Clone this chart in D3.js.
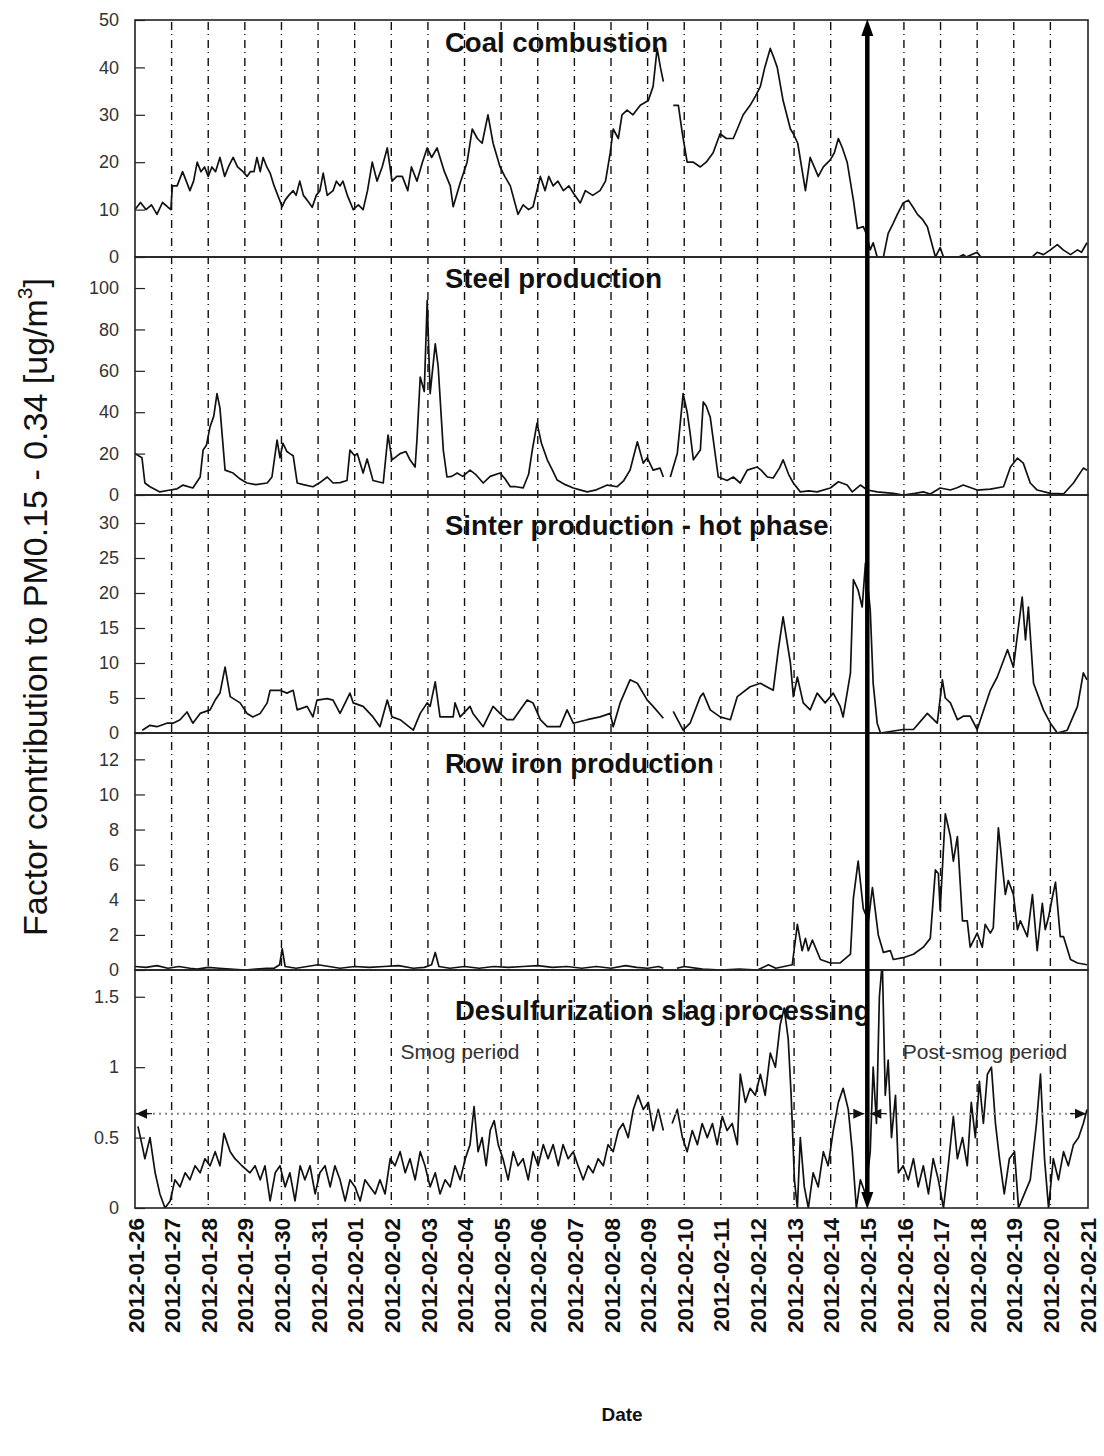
<!DOCTYPE html>
<html>
<head>
<meta charset="utf-8">
<script src="https://cdn.jsdelivr.net/npm/d3@7"></script>
<style>
  body { margin: 0; background: #fff; }
  svg { display: block; font-family: "Liberation Sans", Arial, sans-serif; }
</style>
</head>
<body>
<svg id="chart" width="1104" height="1456"></svg>
<script>
// ---------------- DATA ----------------
const startDate = "2012-01-26";
const endDate = "2012-02-21";
const eventDate = "2012-02-15";
const panelTitles = ["Coal combustion", "Steel production", "Sinter production - hot phase", "Row iron production", "Desulfurization slag processing"];
const yMaxes = [50, 115, 34, 13.5, 1.69];
const yTickValues = [[0,10,20,30,40,50],[0,20,40,60,80,100],[0,5,10,15,20,25,30],[0,2,4,6,8,10,12],[0,0.5,1,1.5]];
const yAxisTitle = "Factor contribution to PM0.15 - 0.34 [ug/m";
const xAxisTitle = "Date";
const periodLabels = ["Smog period", "Post-smog period"];
const thresholdValue = 0.67;

// [days since 2012-01-26, value]; null = gap
const coal = [[0,10],[0.15,11.5],[0.3,10],[0.45,11],[0.6,9],[0.75,11.5],[0.9,10.5],[0.98,10],[1.02,15],[1.15,15],[1.3,18],[1.4,16],[1.5,14],[1.6,16],[1.7,20],[1.8,18],[1.9,19],[2.0,17],[2.1,19],[2.2,18],[2.32,21],[2.45,17],[2.55,19],[2.68,21],[2.8,19],[2.95,18],[3.06,17],[3.15,18],[3.25,18],[3.33,21],[3.42,18],[3.5,21],[3.6,19],[3.69,17.7],[3.8,15],[3.9,13],[4.02,10.6],[4.1,12],[4.2,13],[4.32,14],[4.4,13],[4.5,16],[4.6,13],[4.7,12],[4.84,10.5],[4.95,13],[5.05,14],[5.14,17.7],[5.25,13],[5.41,14],[5.5,16],[5.6,15],[5.68,16],[5.8,13],[5.96,10],[6.1,11],[6.23,10],[6.35,14],[6.48,20],[6.61,16],[6.75,19],[6.89,23],[7.02,16],[7.15,17],[7.3,17],[7.45,14],[7.55,19],[7.7,16],[7.85,20],[7.98,23],[8.1,21],[8.25,23],[8.45,18],[8.61,15],[8.69,10.6],[8.88,15.6],[9.07,20],[9.21,27],[9.35,25],[9.48,24],[9.64,30],[9.78,24],[9.97,19],[10.1,17],[10.25,15],[10.46,9],[10.6,11],[10.75,10],[10.87,10.6],[11.07,17],[11.2,14],[11.3,17],[11.42,15],[11.55,16],[11.7,14],[11.85,15],[11.97,13.5],[12.16,11.4],[12.3,14],[12.5,13],[12.7,14],[12.85,16],[12.98,22],[13.06,27],[13.2,25],[13.3,30],[13.44,31],[13.6,30],[13.8,32],[14.02,33],[14.15,36],[14.26,44],[14.35,40],[14.43,37],[14.5,null],[14.7,32],[14.84,32],[14.95,26],[15.08,20],[15.25,20],[15.44,19],[15.6,20],[15.79,22],[15.98,26],[16.15,25],[16.34,25],[16.45,27],[16.61,30],[16.8,32],[16.95,34],[17.08,36],[17.2,40],[17.35,44],[17.45,42],[17.54,40],[17.7,33],[17.9,27],[17.98,26],[18.1,24],[18.31,14],[18.44,21],[18.55,19],[18.66,17],[18.8,19],[18.99,20.5],[19.1,22],[19.21,25],[19.32,23],[19.45,20],[19.62,12],[19.73,6],[19.89,6.4],[19.97,5],[20.08,1.5],[20.16,3],[20.27,0],[20.44,0],[20.57,5],[20.7,7],[20.82,9],[20.98,11.4],[21.12,12],[21.25,10.5],[21.37,9],[21.5,8],[21.64,6.4],[21.86,0],[21.99,2],[22.08,0],[22.5,0],[22.62,0.5],[22.7,0],[23.0,1],[23.1,0],[24.5,0],[24.64,1],[24.81,0.5],[25.0,1.5],[25.19,2.6],[25.35,1.5],[25.55,0.5],[25.74,1.5],[25.85,1],[26,3]];

const steel = [[0,20],[0.19,18],[0.27,5.8],[0.41,4],[0.68,1.5],[0.96,2.4],[1.15,3],[1.31,4.8],[1.58,3.4],[1.78,8.7],[1.86,21.7],[1.95,24],[2.05,33],[2.15,38],[2.24,49],[2.32,42],[2.46,12],[2.68,10.6],[2.85,8],[3.06,5.8],[3.3,5],[3.61,5.8],[3.74,8.7],[3.88,26.5],[3.96,18],[4.04,25],[4.15,21],[4.23,20],[4.32,19],[4.43,5.8],[4.6,5],[4.86,4],[5.05,6],[5.25,8.7],[5.41,5.8],[5.6,6],[5.79,7],[5.87,21.7],[6.0,19],[6.07,20],[6.23,10.6],[6.34,17.4],[6.5,7],[6.78,5.8],[6.91,29],[7.02,17],[7.24,20],[7.4,21],[7.51,17],[7.65,13.5],[7.7,26.5],[7.79,57],[7.9,50],[7.98,94],[8.06,49],[8.2,73],[8.28,62],[8.42,21.7],[8.52,8.7],[8.65,9],[8.8,10.6],[8.95,9],[9.15,12],[9.3,10],[9.51,5.8],[9.7,9],[9.97,10.6],[10.1,8],[10.25,4],[10.4,4],[10.6,3.4],[10.75,10],[10.85,21.7],[10.98,34.7],[11.1,25],[11.26,17],[11.4,12],[11.53,7.2],[11.75,5],[11.97,3.4],[12.15,2.5],[12.35,1.5],[12.6,2.5],[12.9,4.8],[13.17,4],[13.35,7],[13.52,12],[13.72,25.7],[13.88,15.4],[13.99,18],[14.15,12],[14.34,13],[14.43,8.7],[14.5,null],[14.62,8.7],[14.81,20],[14.97,49],[15.08,40],[15.16,30],[15.25,17],[15.44,21.7],[15.52,45],[15.6,43],[15.71,37.6],[15.93,8.7],[16.17,7],[16.34,8.7],[16.53,5.8],[16.72,12],[16.99,13.5],[17.1,12],[17.27,8.7],[17.43,8.2],[17.6,13],[17.7,17],[17.85,10],[17.98,5.8],[18.17,1.5],[18.4,2],[18.63,1.5],[18.99,3.4],[19.21,6.4],[19.45,4.8],[19.59,1.5],[19.81,4.8],[20,2.4],[20.27,1.5],[20.71,0.8],[20.98,0],[21.3,0.8],[21.53,1.5],[21.72,0.5],[21.99,3.4],[22.27,2.4],[22.45,3.5],[22.62,4.8],[23.0,2.4],[23.36,2.8],[23.72,4],[23.91,13.5],[24.1,17.8],[24.26,15.4],[24.45,5.8],[24.64,2.4],[25.0,0.8],[25.36,0.5],[25.63,5.8],[25.9,13],[26,12]];

const sinter = [[0.2,0.4],[0.41,1.1],[0.6,0.9],[0.87,1.4],[1.04,1.4],[1.23,1.9],[1.42,3.0],[1.58,1.4],[1.78,2.8],[2.05,3.3],[2.19,4.7],[2.32,5.7],[2.46,9.4],[2.6,5.2],[2.87,4.3],[3.06,2.8],[3.22,2.3],[3.42,2.8],[3.61,4.3],[3.69,6.1],[3.96,6.1],[4.15,5.7],[4.32,6.1],[4.43,3.3],[4.7,3.8],[4.86,2.3],[4.97,4.7],[5.25,4.9],[5.41,4.7],[5.6,2.8],[5.87,5.7],[5.96,4.3],[6.23,3.8],[6.5,2.3],[6.69,0.9],[6.89,4.7],[7.02,2.3],[7.24,1.9],[7.6,0.4],[7.79,2.8],[7.98,4.3],[8.06,3.8],[8.2,7.3],[8.33,2.3],[8.69,2.3],[8.74,4.3],[8.88,2.3],[9.15,3.8],[9.23,2.8],[9.51,0.9],[9.78,3.8],[9.97,2.8],[10.16,1.9],[10.33,1.9],[10.71,4.7],[10.87,4.3],[11.07,1.9],[11.26,0.9],[11.61,0.9],[11.8,3.3],[11.97,1.4],[12.35,1.9],[12.7,2.3],[12.98,2.8],[13.06,0.9],[13.25,4.3],[13.52,7.6],[13.72,7.1],[13.99,4.7],[14.15,3.8],[14.43,2.1],[14.5,null],[14.7,3.1],[14.97,0.4],[15.16,1.4],[15.44,5.2],[15.52,5.7],[15.71,3.3],[15.98,2.3],[16.26,1.9],[16.45,5.2],[16.8,6.6],[17.08,7.1],[17.43,6.1],[17.57,11.9],[17.7,16.6],[17.9,10],[17.98,5.2],[18.09,8],[18.25,4.3],[18.44,3.3],[18.63,5.7],[18.85,4.3],[19.07,5.7],[19.26,3.8],[19.34,2.3],[19.54,8.6],[19.62,21.9],[19.75,20.4],[19.86,18],[19.95,24.3],[20.08,17.6],[20.16,7.1],[20.27,1.4],[20.36,0],[20.98,0.5],[21.26,0.5],[21.64,2.8],[21.91,1.4],[22.05,7.6],[22.13,5],[22.27,4.3],[22.46,1.9],[22.62,2.4],[22.81,2.4],[23.0,0.5],[23.36,6.1],[23.55,8],[23.83,11.9],[23.99,9.4],[24.23,19.4],[24.32,13.3],[24.4,18],[24.54,7.1],[24.81,3.3],[25.0,1.4],[25.19,0],[25.46,0.4],[25.74,3.8],[25.9,8.6],[26,7.6]];

const rowIron = [[0,0.2],[0.3,0.15],[0.6,0.25],[0.9,0.1],[1.2,0.2],[1.5,0.1],[1.7,0.05],[2.0,0.15],[2.3,0.1],[2.6,0.05],[3.0,0],[3.3,0.05],[3.6,0.1],[3.8,0.1],[3.95,0.3],[4.02,1.2],[4.1,0.2],[4.4,0.1],[4.7,0.2],[5.0,0.3],[5.3,0.2],[5.6,0.1],[6.0,0.2],[6.4,0.15],[6.8,0.2],[7.2,0.25],[7.6,0.1],[7.9,0.15],[8.1,0.3],[8.2,1.0],[8.3,0.2],[8.6,0.1],[9.0,0.2],[9.4,0.1],[9.8,0.2],[10.2,0.15],[10.6,0.2],[11.0,0.25],[11.4,0.15],[11.8,0.2],[12.2,0.1],[12.6,0.2],[13.0,0.1],[13.4,0.25],[13.7,0.15],[14.0,0.1],[14.3,0.2],[14.43,0.1],[14.5,null],[14.8,0.1],[15.0,0.2],[15.5,0.05],[16.0,0],[16.5,0.05],[17.0,0],[17.3,0.3],[17.5,0.1],[17.95,0.3],[18.09,2.6],[18.22,1.1],[18.31,1.8],[18.39,1.1],[18.5,1.7],[18.72,0.6],[18.99,0.4],[19.26,0.4],[19.54,0.9],[19.62,4.1],[19.75,6.2],[19.89,3.5],[20.03,2.8],[20.14,4.7],[20.3,2.0],[20.44,1.0],[20.63,1.1],[20.71,0.6],[20.98,0.7],[21.26,0.9],[21.53,1.3],[21.72,1.8],[21.86,5.7],[21.94,5.5],[21.99,3.4],[22.13,8.9],[22.27,7.6],[22.35,6.2],[22.46,7.6],[22.6,2.8],[22.73,2.8],[22.81,1.3],[23.0,2.1],[23.14,1.3],[23.22,2.6],[23.36,2.1],[23.44,2.4],[23.58,8.1],[23.77,4.3],[23.85,5.1],[23.99,4.3],[24.1,2.3],[24.18,2.8],[24.37,1.9],[24.51,4.3],[24.64,1.1],[24.78,3.8],[24.86,2.3],[24.95,3.0],[25.05,4.1],[25.14,5.0],[25.27,1.9],[25.36,1.9],[25.55,0.6],[25.74,0.4],[26,0.3]];

const desulf = [[0.08,0.58],[0.19,0.45],[0.27,0.35],[0.41,0.5],[0.55,0.25],[0.68,0.1],[0.82,0],[0.96,0.05],[1.09,0.2],[1.23,0.15],[1.37,0.25],[1.5,0.2],[1.64,0.3],[1.78,0.25],[1.91,0.35],[2.05,0.3],[2.19,0.4],[2.32,0.3],[2.43,0.53],[2.6,0.4],[2.73,0.35],[2.92,0.3],[3.14,0.25],[3.28,0.3],[3.42,0.2],[3.55,0.3],[3.69,0.05],[3.83,0.25],[3.96,0.3],[4.1,0.15],[4.23,0.25],[4.37,0.05],[4.51,0.3],[4.64,0.2],[4.78,0.3],[4.92,0.1],[5.05,0.25],[5.19,0.3],[5.33,0.15],[5.46,0.3],[5.6,0.2],[5.74,0.05],[5.87,0.2],[6.01,0.15],[6.15,0.05],[6.28,0.2],[6.42,0.15],[6.56,0.1],[6.69,0.2],[6.83,0.1],[6.97,0.35],[7.1,0.3],[7.24,0.4],[7.38,0.25],[7.51,0.35],[7.65,0.2],[7.79,0.4],[7.92,0.3],[8.06,0.15],[8.2,0.25],[8.33,0.1],[8.47,0.2],[8.61,0.15],[8.74,0.3],[8.88,0.2],[9.02,0.35],[9.15,0.45],[9.26,0.72],[9.37,0.4],[9.48,0.5],[9.59,0.3],[9.7,0.55],[9.81,0.62],[9.92,0.45],[10.05,0.35],[10.19,0.2],[10.33,0.4],[10.46,0.3],[10.6,0.35],[10.74,0.2],[10.87,0.4],[11.01,0.3],[11.15,0.45],[11.28,0.35],[11.42,0.45],[11.56,0.3],[11.69,0.45],[11.83,0.35],[11.97,0.4],[12.1,0.3],[12.24,0.2],[12.38,0.3],[12.51,0.25],[12.65,0.35],[12.79,0.3],[12.92,0.45],[13.06,0.4],[13.2,0.55],[13.33,0.6],[13.47,0.5],[13.61,0.7],[13.74,0.8],[13.88,0.7],[14.02,0.75],[14.15,0.55],[14.29,0.7],[14.43,0.55],[14.5,null],[14.67,0.6],[14.81,0.7],[14.95,0.5],[15.08,0.4],[15.22,0.55],[15.36,0.45],[15.49,0.6],[15.63,0.5],[15.77,0.6],[15.9,0.45],[16.04,0.65],[16.17,0.55],[16.31,0.6],[16.45,0.45],[16.53,0.95],[16.67,0.75],[16.8,0.85],[16.94,0.8],[17.08,0.95],[17.21,0.8],[17.35,1.1],[17.49,1.0],[17.62,1.3],[17.73,1.42],[17.84,1.2],[17.92,0.8],[18.01,0.2],[18.09,0],[18.17,0.5],[18.28,0.15],[18.39,0],[18.52,0.25],[18.66,0.15],[18.8,0.4],[18.93,0.3],[19.07,0.55],[19.21,0.75],[19.34,0.85],[19.48,0.7],[19.59,0.4],[19.7,0],[19.81,0.2],[19.95,0.1],[20.08,0.4],[20.16,1.0],[20.25,0.6],[20.33,1.5],[20.41,1.75],[20.49,0.8],[20.57,1.05],[20.66,0.5],[20.77,0.8],[20.85,0.25],[20.98,0.3],[21.12,0.2],[21.26,0.35],[21.39,0.15],[21.53,0.3],[21.67,0.1],[21.8,0.35],[21.94,0.2],[22.08,0],[22.21,0.3],[22.35,0.65],[22.46,0.35],[22.6,0.5],[22.73,0.3],[22.84,0.75],[22.95,0.5],[23.06,0.9],[23.17,0.6],[23.28,0.95],[23.39,1.0],[23.5,0.6],[23.61,0.35],[23.74,0.1],[23.88,0.35],[24.02,0.4],[24.13,0],[24.29,0.1],[24.45,0.2],[24.62,0.6],[24.73,0.95],[24.84,0.35],[24.95,0],[25.08,0.35],[25.22,0.2],[25.36,0.4],[25.49,0.3],[25.63,0.45],[25.77,0.5],[25.9,0.6],[26,0.7]];

const seriesList = [coal, steel, sinter, rowIron, desulf];

// ---------------- LAYOUT ----------------
const svg = d3.select("#chart");
const left = 135, right = 1088;
const panelTops = [20, 257, 495, 733, 970];
const panelBottom = 1208;
const DAY = 86400000;
const t0 = new Date(startDate + "T00:00:00Z");
const toDate = d => new Date(t0.getTime() + d * DAY);

const x = d3.scaleUtc()
  .domain([t0, new Date(endDate + "T00:00:00Z")])
  .range([left, 1087]);

const line = d3.line().defined(p => p[1] !== null);

// vertical day lines
const days = d3.utcDay.range(d3.utcDay.offset(t0, 1), new Date(endDate + "T00:00:00Z"))
  .filter(d => d3.utcFormat("%Y-%m-%d")(d) !== eventDate);
svg.append("g").selectAll("line").data(days).join("line")
  .attr("x1", d => x(d)).attr("x2", d => x(d))
  .attr("y1", 22).attr("y2", panelBottom)
  .attr("stroke", "#111").attr("stroke-width", 1.4)
  .attr("stroke-dasharray", "8,4,1,5");

panelTitles.forEach((title, i) => {
  const top = panelTops[i];
  const bottom = i < 4 ? panelTops[i + 1] : panelBottom;
  const y = d3.scaleLinear().domain([0, yMaxes[i]]).range([bottom, top]);
  const g = svg.append("g");

  const clipId = "clip" + i;
  svg.append("clipPath").attr("id", clipId).append("rect")
    .attr("x", left).attr("y", top).attr("width", right - left).attr("height", bottom - top);

  // axis
  const ax = g.append("g").attr("transform", `translate(${left},0)`)
    .call(d3.axisLeft(y).tickValues(yTickValues[i]).tickSizeInner(-10).tickSizeOuter(0).tickPadding(16)
      .tickFormat(v => String(v)));
  ax.select(".domain").remove();
  ax.selectAll("line").attr("stroke", "#222").attr("stroke-width", 1.2);
  ax.selectAll("text").attr("font-size", 18).attr("fill", "#333")
    .attr("font-family", "'Liberation Sans', Arial, sans-serif");

  // series line
  g.append("path")
    .datum(seriesList[i].map(p => [x(toDate(p[0])), p[1] === null ? null : y(p[1])]))
    .attr("clip-path", `url(#${clipId})`)
    .attr("fill", "none").attr("stroke", "#111").attr("stroke-width", 1.7)
    .attr("stroke-linejoin", "round")
    .attr("d", d => line.y(p => p[1]).x(p => p[0])(d));

  // title
  g.append("text")
    .attr("x", i === 4 ? 455 : 445)
    .attr("y", [52, 288, 535, 773, 1020][i])
    .attr("font-size", 27.5).attr("font-weight", "bold").attr("fill", "#111")
    .text(title);

  // frame
  svg.append("rect").attr("x", left).attr("y", top)
    .attr("width", right - left).attr("height", bottom - top)
    .attr("fill", "none").attr("stroke", "#222").attr("stroke-width", 1.6);

  if (i === 4) {
    const yy = y(thresholdValue);
    const xe = x(new Date(eventDate + "T00:00:00Z"));
    g.append("line").attr("x1", left).attr("x2", 1087).attr("y1", yy).attr("y2", yy)
      .attr("stroke", "#888").attr("stroke-width", 2).attr("stroke-dasharray", "2,4");
    const tri = (tipX, dir) => {
      const h = 11, w = 5;
      return `M${tipX},${yy} L${tipX - dir * h},${yy - w} L${tipX - dir * h},${yy + w} Z`;
    };
    [[left + 1, -1], [xe - 3, 1], [xe + 3, -1], [1086, 1]].forEach(([tx, dir]) => {
      g.append("path").attr("d", tri(tx, dir)).attr("fill", "#111");
      g.append("line").attr("x1", tx).attr("x2", tx - dir * 16).attr("y1", yy).attr("y2", yy)
        .attr("stroke", "#111").attr("stroke-width", 1.2);
    });
    g.append("text").attr("x", 460).attr("y", 1059).attr("text-anchor", "middle")
      .attr("font-size", 21).attr("fill", "#333").text(periodLabels[0]);
    g.append("text").attr("x", 985).attr("y", 1059).attr("text-anchor", "middle")
      .attr("font-size", 21).attr("fill", "#333").text(periodLabels[1]);
  }
});

// event arrow
const xe = x(new Date(eventDate + "T00:00:00Z"));
svg.append("line").attr("x1", xe).attr("x2", xe).attr("y1", 30).attr("y2", panelBottom - 10)
  .attr("stroke", "#000").attr("stroke-width", 4.5);
svg.append("path").attr("d", `M${xe},19 L${xe - 6},36 L${xe + 6},36 Z`).attr("fill", "#000");
svg.append("path").attr("d", `M${xe},${panelBottom + 1} L${xe - 6},${panelBottom - 16} L${xe + 6},${panelBottom - 16} Z`).attr("fill", "#000");

// x axis
const xAxisG = svg.append("g").attr("transform", `translate(0,${panelBottom})`)
  .call(d3.axisBottom(x).ticks(d3.utcDay.every(1)).tickFormat(d3.utcFormat("%Y-%m-%d")).tickSize(0));
xAxisG.select(".domain").remove();
xAxisG.selectAll("text")
  .attr("transform", "rotate(-90)")
  .attr("text-anchor", "end")
  .attr("x", -10).attr("y", 0).attr("dy", "0.36em")
  .attr("font-size", 22.5).attr("font-weight", "bold").attr("fill", "#111")
  .attr("font-family", "'Liberation Sans', Arial, sans-serif");

svg.append("text").attr("x", 622).attr("y", 1421).attr("text-anchor", "middle")
  .attr("font-size", 19).attr("font-weight", "bold").attr("fill", "#111").text(xAxisTitle);

const yt = svg.append("text")
  .attr("transform", "translate(47,607) rotate(-90)")
  .attr("text-anchor", "middle")
  .attr("font-size", 34).attr("fill", "#111");
yt.append("tspan").text(yAxisTitle);
yt.append("tspan").attr("font-size", 21).attr("dy", -15).text("3");
yt.append("tspan").attr("dy", 15).text("]");
</script>
</body>
</html>
